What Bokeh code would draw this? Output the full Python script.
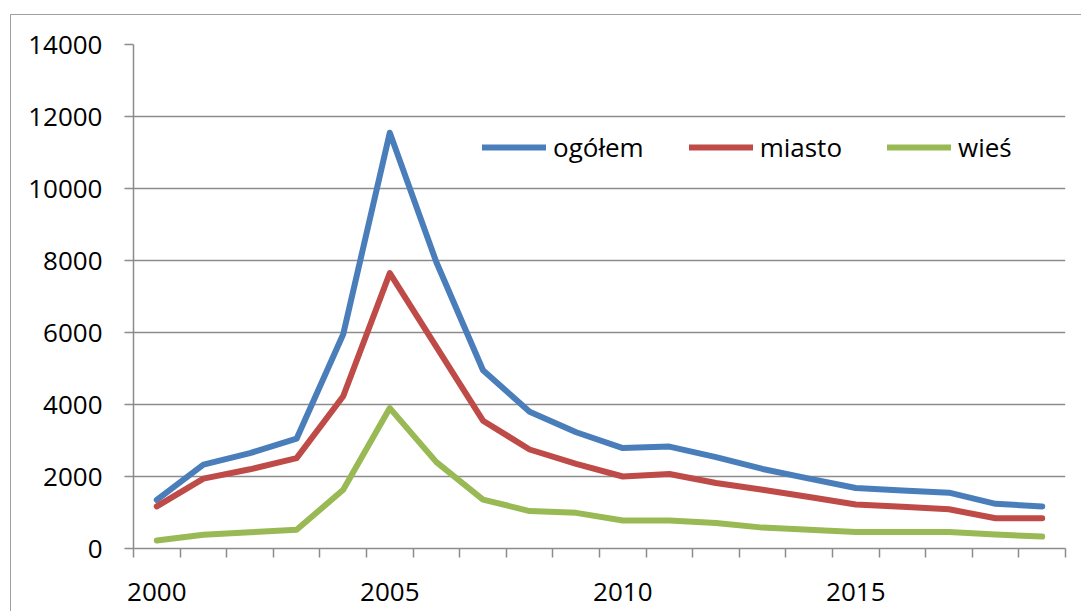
from bokeh.plotting import figure
from bokeh.models import FixedTicker, Legend, LegendItem, InlineStyleSheet
from bokeh.embed import file_html
from bokeh.resources import INLINE

years = list(range(2000, 2020))
ogolem = [1350, 2330, 2650, 3050, 5950, 11550, 7950, 4950, 3800, 3230,
          2790, 2830, 2540, 2210, 1940, 1680, 1610, 1550, 1240, 1170]
miasto = [1170, 1940, 2200, 2510, 4230, 7650, 5600, 3550, 2750, 2350,
          2000, 2070, 1820, 1630, 1430, 1220, 1160, 1090, 840, 840]
wies = [220, 380, 450, 520, 1630, 3900, 2400, 1360, 1040, 990,
        780, 780, 710, 580, 520, 460, 460, 460, 390, 330]
series_names = ["ogółem", "miasto", "wieś"]
x_tick_years = [2000, 2005, 2010, 2015]
y_ticks = [0, 2000, 4000, 6000, 8000, 10000, 12000, 14000]

colors = ["#4A7EBB", "#BE4B48", "#98B954"]
GRID = "#8c8c8c"
FONT = "Open Sans"
FS = "26px"

p = figure(width=1081, height=611, x_range=(1999.5, 2019.5), y_range=(0, 14000),
           output_backend="svg", toolbar_location=None,
           min_border_left=133, min_border_top=44, min_border_right=16, min_border_bottom=63)
p.outline_line_color = None
p.background_fill_color = "white"
p.border_fill_color = "white"

renderers = []
for vals, c in zip([ogolem, miasto, wies], colors):
    r = p.line(years, vals, line_color=c, line_width=6, line_cap="round", line_join="round")
    renderers.append(r)

# x axis: labels every 5 years, tick marks between categories
xa = p.xaxis[0]
xa.ticker = FixedTicker(ticks=x_tick_years,
                        minor_ticks=[y - 0.5 for y in years] + [years[-1] + 0.5])
xa.major_tick_out = 0
xa.major_tick_in = 0
xa.minor_tick_out = 9
xa.minor_tick_in = 0
xa.minor_tick_line_color = GRID
xa.minor_tick_line_width = 1.5
xa.axis_line_color = GRID
xa.axis_line_width = 1.5
xa.major_label_standoff = 25
xa.major_label_text_font = FONT
xa.major_label_text_font_size = FS
xa.major_label_text_color = "black"

ya = p.yaxis[0]
ya.ticker = FixedTicker(ticks=y_ticks)
ya.major_tick_out = 9
ya.major_tick_in = 0
ya.major_tick_line_color = GRID
ya.major_tick_line_width = 1.5
ya.minor_tick_line_color = None
ya.axis_line_color = GRID
ya.axis_line_width = 1.5
ya.major_label_standoff = 22
ya.major_label_text_font = FONT
ya.major_label_text_font_size = FS
ya.major_label_text_color = "black"

p.xgrid.visible = False
p.ygrid.ticker = FixedTicker(ticks=y_ticks)
p.ygrid.grid_line_color = GRID
p.ygrid.grid_line_width = 1.5

legend = Legend(items=[LegendItem(label=n, renderers=[r]) for n, r in zip(series_names, renderers)],
                orientation="horizontal", location=(349, 383))
legend.label_text_font = FONT
legend.label_text_font_size = FS
legend.label_text_color = "black"
legend.glyph_width = 64
legend.glyph_height = 30
legend.label_height = 30
legend.label_standoff = 7
legend.spacing = 45
legend.padding = 0
legend.margin = 0
legend.border_line_color = None
legend.background_fill_alpha = 0
p.add_layout(legend)

# outer chart-area border (left and top edges visible)
p.stylesheets = [InlineStyleSheet(css=(
    ":host::after { content: ''; position: absolute; left: 10px; top: 14px; "
    "width: 1071px; height: 597px; box-sizing: border-box; "
    "border-left: 1.5px solid #a0a0a0; border-top: 1.5px solid #a0a0a0; "
    "pointer-events: none; }"))]

open("out.html", "w").write(file_html(p, INLINE))
